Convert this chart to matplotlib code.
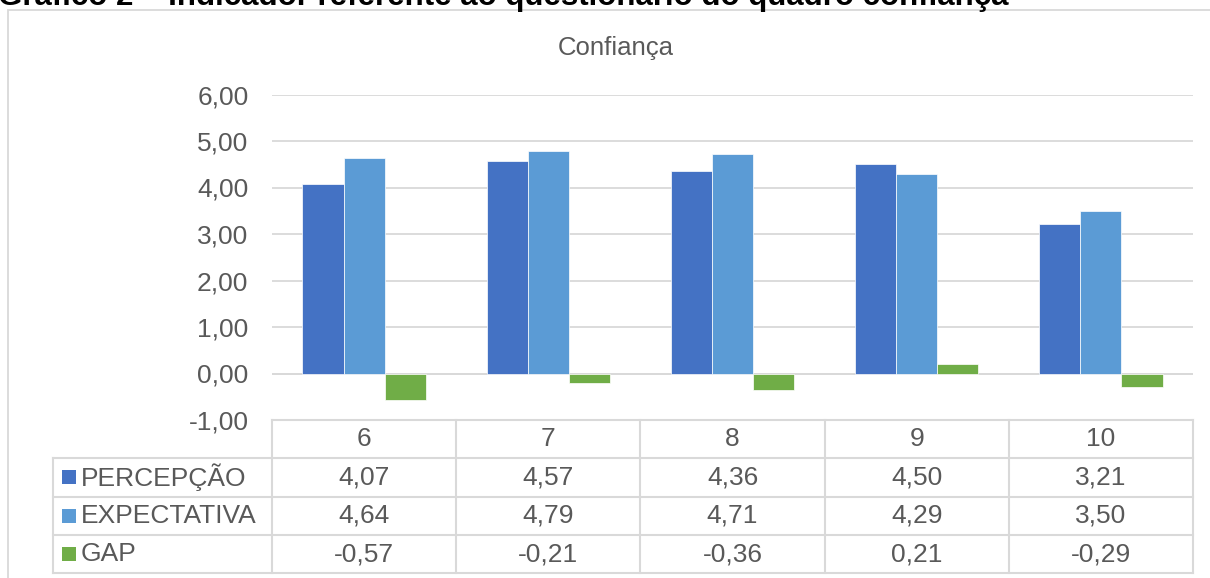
import matplotlib.pyplot as plt
import numpy as np
from matplotlib.lines import Line2D
from matplotlib.patches import Rectangle

# data
categories = ['6', '7', '8', '9', '10']
series_names = ['PERCEPÇÃO', 'EXPECTATIVA', 'GAP']
percepcao = [4.07, 4.57, 4.36, 4.50, 3.21]
expectativa = [4.64, 4.79, 4.71, 4.29, 3.50]
gap = [-0.57, -0.21, -0.36, 0.21, -0.29]
colors = ['#4472C4', '#5B9BD5', '#70AD47']
y_ticks = [-1, 0, 1, 2, 3, 4, 5, 6]

plt.rcParams['font.family'] = ['Liberation Sans', 'DejaVu Sans']
W, H = 1210, 578
TXT = '#595959'
GRID = '#D9D9D9'
FS = 19


def fx(px):
    return px / W


def fy(py):
    return 1 - py / H


fig = plt.figure(figsize=(W / 100, H / 100), dpi=100)

# outer chart frame (cut at right and bottom)
fig.add_artist(Rectangle((fx(7.5), fy(600)), fx(1230), 590 / H, transform=fig.transFigure,
                         fill=False, edgecolor=GRID, lw=1.3))

# caption cut off at the top, as in the source
fig.text(fx(-2), fy(5), 'Gráfico 2 – Indicador referente ao questionário do quadro confiança',
         fontsize=22.5, fontweight='bold', color='black', va='baseline', ha='left')

left, right, top, bottom = 272, 1193, 94.5, 420
ax = fig.add_axes([fx(left), fy(bottom), fx(right - left), (bottom - top) / H])

x = np.arange(len(categories))
bw = 0.223
for i, (vals, c) in enumerate(zip([percepcao, expectativa, gap], colors)):
    ax.bar(x + (i - 1) * bw, vals, bw, color=c, edgecolor='white', lw=0.5, zorder=3)

ax.set_xlim(-0.5, len(categories) - 0.5)
ax.set_ylim(-1, 6)
ax.set_yticks(y_ticks)
ax.set_yticklabels([f'{v:.2f}'.replace('.', ',') for v in y_ticks], fontsize=FS, color=TXT)
ax.tick_params(axis='y', length=0, pad=17)
ax.set_xticks([])
ax.grid(axis='y', color=GRID, lw=1.3, zorder=0)
ax.axhline(0, color=GRID, lw=1.3, zorder=2)
for s in ax.spines.values():
    s.set_visible(False)

fig.text(fx(616), fy(48), 'Confiança', fontsize=18.5, color=TXT, ha='center', va='center')

# data table below the axis
row_lines = [420, 457.5, 496.5, 535, 573.3]
col_w = (right - left) / len(categories)
lab_left = 53


def hline(y, x0, x1):
    fig.add_artist(Line2D([fx(x0), fx(x1)], [fy(y), fy(y)], color=GRID, lw=1.5,
                          transform=fig.transFigure))


def vline(xp, y0, y1):
    fig.add_artist(Line2D([fx(xp), fx(xp)], [fy(y0), fy(y1)], color=GRID, lw=1.5,
                          transform=fig.transFigure))


hline(row_lines[0], left, right)
for y in row_lines[1:]:
    hline(y, lab_left, right)
vline(lab_left, row_lines[1], row_lines[-1])
for j in range(len(categories) + 1):
    vline(left + j * col_w, row_lines[0], row_lines[-1])

for j, cat in enumerate(categories):
    cx = left + (j + 0.5) * col_w
    fig.text(fx(cx), fy((row_lines[0] + row_lines[1]) / 2), cat, fontsize=FS, color=TXT,
             ha='center', va='center')

for r, (name, vals, c) in enumerate(zip(series_names, [percepcao, expectativa, gap], colors)):
    cy = (row_lines[r + 1] + row_lines[r + 2]) / 2
    fig.add_artist(Rectangle((fx(62), fy(cy + 7)), fx(14), 14 / H, transform=fig.transFigure,
                             facecolor=c, edgecolor='none'))
    fig.text(fx(81), fy(cy), name, fontsize=FS, color=TXT, ha='left', va='center')
    for j, v in enumerate(vals):
        cx = left + (j + 0.5) * col_w
        fig.text(fx(cx), fy(cy), f'{v:.2f}'.replace('.', ','), fontsize=FS, color=TXT,
                 ha='center', va='center')

fig.savefig('out.png', dpi=100)
